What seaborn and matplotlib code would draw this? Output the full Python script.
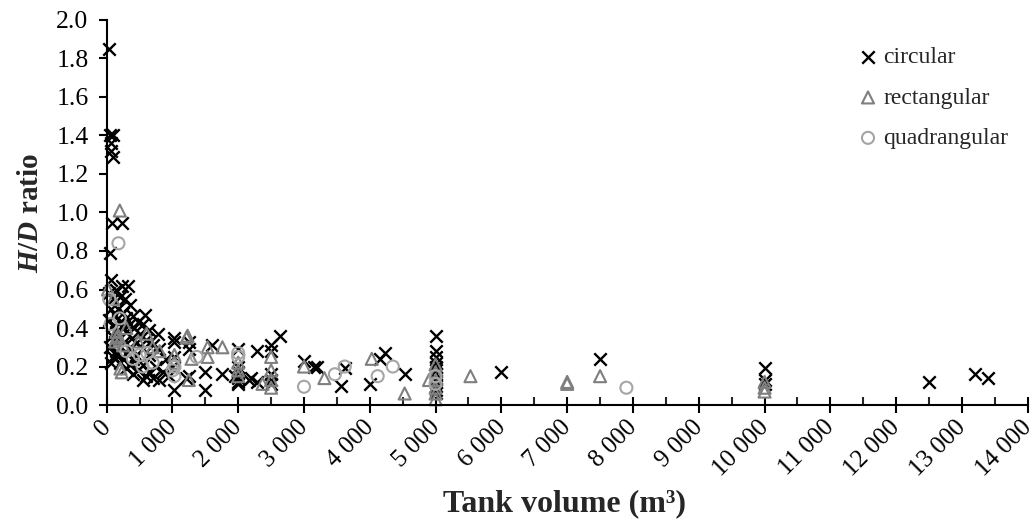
import pandas as pd
import matplotlib
matplotlib.use("Agg")
import matplotlib.pyplot as plt
import matplotlib.transforms as mtransforms
import seaborn as sns
from matplotlib.ticker import MultipleLocator, FuncFormatter

# Tankvolumen (m3) und H/D-Verhaeltnis je Tankform
circ_vol = [40, 50, 90, 70, 60, 90, 80, 240, 50, 60, 240, 320, 150, 30, 100, 200, 280, 350,
            60, 180, 250, 120, 400, 580, 300, 40, 200, 470, 350, 550, 100, 250, 420, 650,
            150, 300, 500, 775, 80, 200, 380, 600, 1030, 120, 270, 450, 700, 1030, 50, 220,
            350, 550, 800, 150, 300, 450, 650, 100, 250, 400, 900, 200, 350, 550, 750, 60,
            300, 480, 650, 850, 150, 400, 600, 700, 950, 1000, 1030, 800, 550, 1030,
            1250, 1250, 1250, 1200, 1600, 1500, 1500, 1760, 2000, 2000, 2000, 2000, 2000,
            2000, 1950, 2170, 2280, 2280, 2200, 2500, 2500, 2630, 2500, 2500, 2500, 3000,
            3150, 3200, 3560, 3620, 4010, 4150, 4230, 4530, 5000, 5000, 5000, 5000, 5000,
            5000, 5000, 5000, 5000, 5000, 5000, 5000, 6000, 7500, 10000, 10000, 10000,
            12500, 13200, 13400]
circ_hd = [1.85, 1.40, 1.40, 1.36, 1.32, 1.29, 0.945, 0.945, 0.79, 0.65, 0.62, 0.62, 0.60, 0.58,
           0.55, 0.56, 0.55, 0.52, 0.50, 0.50, 0.48, 0.47, 0.46, 0.47, 0.45, 0.44, 0.43, 0.43,
           0.42, 0.42, 0.41, 0.40, 0.40, 0.39, 0.38, 0.38, 0.37, 0.37, 0.36, 0.35, 0.35, 0.34,
           0.35, 0.33, 0.33, 0.32, 0.31, 0.33, 0.30, 0.30, 0.30, 0.29, 0.29, 0.28, 0.27, 0.26,
           0.26, 0.25, 0.24, 0.24, 0.24, 0.22, 0.21, 0.21, 0.20, 0.22, 0.19, 0.18, 0.17, 0.17,
           0.26, 0.16, 0.15, 0.14, 0.15, 0.20, 0.08, 0.13, 0.13, 0.25,
           0.33, 0.29, 0.15, 0.14, 0.31, 0.17, 0.08, 0.16, 0.29, 0.20, 0.17, 0.14, 0.11,
           0.12, 0.15, 0.13, 0.28, 0.12, 0.14, 0.31, 0.28, 0.36, 0.16, 0.13, 0.11, 0.23,
           0.20, 0.20, 0.10, 0.19, 0.11, 0.24, 0.27, 0.16, 0.36, 0.28, 0.25, 0.22, 0.20,
           0.18, 0.16, 0.14, 0.12, 0.10, 0.08, 0.06, 0.17, 0.24, 0.19, 0.13, 0.11,
           0.12, 0.16, 0.14]

rect_vol = [200, 20, 100, 150, 150, 130, 170, 200, 230, 210, 250, 300, 480, 608, 700, 805,
            1030, 1030, 1215, 1290, 1230, 1250, 1535, 1760, 1535, 2000, 2000, 2000, 2370,
            2500, 2500, 2500, 2500, 3000, 3310, 4030, 4530, 4900, 5000, 5000, 5000, 5000,
            5000, 5000, 5530, 7000, 7000, 7500, 10000, 10000, 10000]
rect_hd = [1.01, 0.60, 0.55, 0.38, 0.35, 0.33, 0.36, 0.34, 0.17, 0.19, 0.31, 0.40, 0.33, 0.37,
           0.30, 0.28, 0.26, 0.22, 0.35, 0.24, 0.36, 0.13, 0.30, 0.30, 0.25, 0.22, 0.18, 0.15,
           0.11, 0.25, 0.18, 0.13, 0.09, 0.20, 0.14, 0.24, 0.06, 0.13, 0.21, 0.17, 0.13, 0.09,
           0.06, 0.03, 0.15, 0.11, 0.12, 0.15, 0.12, 0.09, 0.07]

quad_vol = [180, 40, 60, 200, 300, 400, 500, 620, 547, 700, 1030, 1030, 1000, 1370, 2000,
            2000, 3000, 3470, 3620, 4120, 4350, 5000, 5000, 7900]
quad_hd = [0.84, 0.55, 0.42, 0.45, 0.28, 0.24, 0.26, 0.27, 0.20, 0.22, 0.15, 0.20, 0.18, 0.25,
           0.25, 0.27, 0.095, 0.16, 0.20, 0.15, 0.20, 0.15, 0.11, 0.09]

df = pd.concat([
    pd.DataFrame({"volume": circ_vol, "hd": circ_hd, "shape": "circular"}),
    pd.DataFrame({"volume": rect_vol, "hd": rect_hd, "shape": "rectangular"}),
    pd.DataFrame({"volume": quad_vol, "hd": quad_hd, "shape": "quadrangular"}),
])

sns.set_style("ticks")
plt.rcParams["font.family"] = ["Liberation Serif", "DejaVu Serif"]
plt.rcParams["mathtext.fontset"] = "custom"
plt.rcParams["mathtext.rm"] = "Liberation Serif:bold"
plt.rcParams["mathtext.it"] = "Liberation Serif:italic:bold"

fig, ax = plt.subplots(figsize=(10.35, 5.24), dpi=100)
fig.subplots_adjust(left=0.103, right=0.993, top=0.962, bottom=0.227)

# Kreuze fuer runde Tanks
sns.scatterplot(data=df[df["shape"] == "circular"], x="volume", y="hd", marker="x",
                color="black", s=80, linewidth=1.7, label="circular", ax=ax, clip_on=False)

# offene Marker fuer die anderen Formen
styles = {"rectangular": ("^", "#7f7f7f"), "quadrangular": ("o", "#a5a5a5")}
for shape, (mk, col) in styles.items():
    sns.scatterplot(data=df[df["shape"] == shape], x="volume", y="hd", marker=mk,
                    s=75, linewidth=1.5, label=shape, ax=ax, clip_on=False)
    coll = ax.collections[-1]
    coll.set_facecolor("none")
    coll.set_edgecolor(col)

ax.set_xlim(0, 14000)
ax.set_ylim(0, 2.0)
ax.xaxis.set_major_locator(MultipleLocator(1000))
ax.xaxis.set_minor_locator(MultipleLocator(500))
ax.yaxis.set_major_locator(MultipleLocator(0.2))
ax.xaxis.set_major_formatter(FuncFormatter(lambda v, p: f"{int(v):,}".replace(",", " ")))
ax.yaxis.set_major_formatter(FuncFormatter(lambda v, p: f"{v:.1f}"))

for s in ["top", "right"]:
    ax.spines[s].set_visible(False)
for s in ["left", "bottom"]:
    ax.spines[s].set_linewidth(1.5)
    ax.spines[s].set_color("black")

ax.tick_params(axis="y", which="major", direction="out", length=6, width=1.5,
               labelsize=18.5, colors="black", pad=7)
ax.tick_params(axis="x", which="major", direction="inout", length=11, width=1.5,
               labelsize=18, colors="black", pad=5)
ax.tick_params(axis="x", which="minor", direction="in", length=6, width=1.5)
# Beschriftungen leicht nach unten schieben, damit die 0 nicht auf der Achse sitzt
shift = mtransforms.ScaledTranslation(0.5 / 72, -3 / 72, fig.dpi_scale_trans)
for lab in ax.get_xticklabels():
    lab.set_rotation(45)
    lab.set_ha("right")
    lab.set_va("center")
    lab.set_rotation_mode("anchor")
    lab.set_transform(lab.get_transform() + shift)

ax.set_xlabel("Tank volume (m³)", fontsize=23, fontweight="bold")
ax.set_ylabel("$H$/$D$ ratio", fontsize=21, fontweight="bold")
ax.xaxis.set_label_coords(0.497, -0.218)
ax.yaxis.set_label_coords(-0.068, 0.5)

leg = ax.legend(loc="upper left", bbox_to_anchor=(0.8035, 0.955), frameon=False,
                fontsize=17, handletextpad=0.15, labelspacing=0.8, handlelength=1.0,
                borderaxespad=0.0)

plt.savefig("out.png", dpi=100)
